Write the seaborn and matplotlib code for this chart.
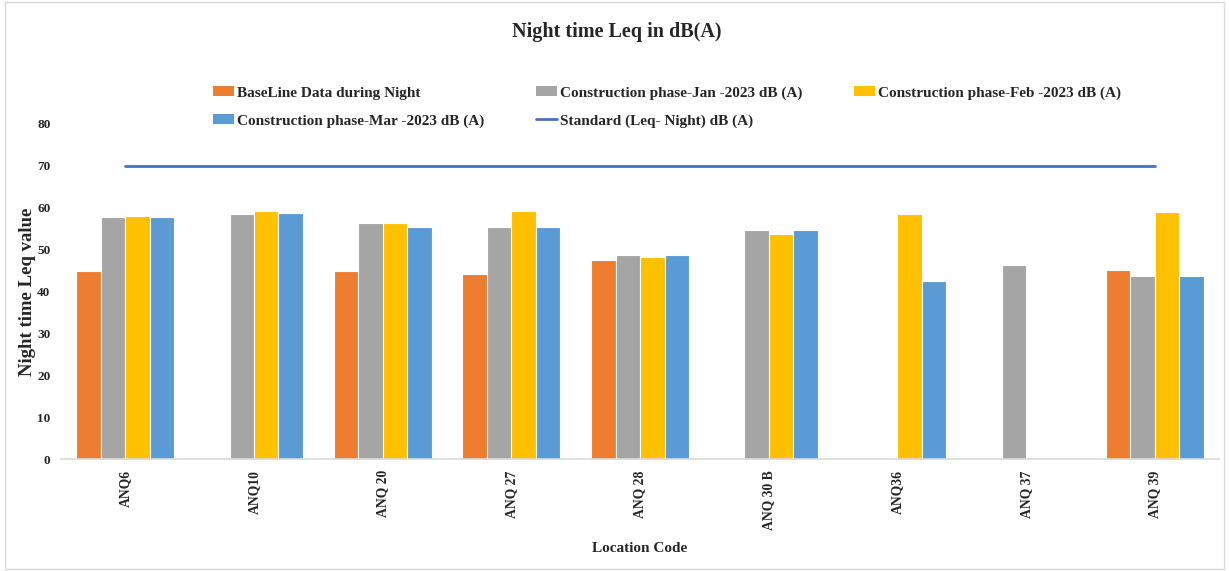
import numpy as np
import pandas as pd
import matplotlib
matplotlib.use("Agg")
import matplotlib.pyplot as plt
import seaborn as sns
from matplotlib.patches import Patch, Rectangle
from matplotlib.lines import Line2D

# Monitoring locations
locations = ["ANQ6", "ANQ10", "ANQ 20", "ANQ 27", "ANQ 28", "ANQ 30 B", "ANQ36", "ANQ 37", "ANQ 39"]

# Night time Leq, dB(A); NaN where no reading was taken
baseline = [45.0, np.nan, 44.9, 44.2, 47.5, np.nan, np.nan, np.nan, 45.2]
jan_2023 = [57.7, 58.4, 56.4, 55.4, 48.8, 54.7, np.nan, 46.4, 43.6]
feb_2023 = [58.1, 59.1, 56.3, 59.1, 48.3, 53.8, 58.6, np.nan, 59.0]
mar_2023 = [57.7, 58.8, 55.5, 55.4, 48.8, 54.7, 42.6, np.nan, 43.7]
standard = [70] * len(locations)

series_names = [
    "BaseLine Data during Night",
    "Construction phase-Jan -2023 dB (A)",
    "Construction phase-Feb -2023 dB (A)",
    "Construction phase-Mar -2023 dB (A)",
]
standard_name = "Standard (Leq- Night) dB (A)"
colors = ["#ED7D31", "#A5A5A5", "#FFC000", "#5B9BD5"]
line_color = "#4472C4"

df = pd.DataFrame({
    "Location": locations * 4,
    "Series": np.repeat(series_names, len(locations)),
    "Leq": baseline + jan_2023 + feb_2023 + mar_2023,
})

sns.set_theme(style="white")
plt.rcParams["font.family"] = ["Liberation Serif", "DejaVu Serif"]
plt.rcParams["font.weight"] = "bold"

fig = plt.figure(figsize=(12.29, 5.71), dpi=100)
ax = fig.add_axes([0.0496, 0.196, 0.9424, 0.587])

sns.barplot(
    data=df, x="Location", y="Leq", hue="Series", order=locations,
    hue_order=series_names, palette=colors, width=0.76,
    edgecolor="white", linewidth=0.8, saturation=1, ax=ax, legend=False,
)
sns.lineplot(x=np.arange(len(locations)), y=standard, color=line_color,
             linewidth=2.0, ax=ax)

ax.set_xlim(-0.5, len(locations) - 0.5)
ax.set_ylim(0, 80)
ax.set_yticks(range(0, 81, 10))
ax.tick_params(axis="both", length=0)
ax.tick_params(axis="y", labelsize=9.5, pad=7.5)
ax.tick_params(axis="x", labelsize=9.8, pad=8)
for lbl in ax.get_xticklabels():
    lbl.set_rotation(90)
    lbl.set_fontweight("bold")
for lbl in ax.get_yticklabels():
    lbl.set_fontweight("bold")

for side in ["top", "right", "left"]:
    ax.spines[side].set_visible(False)
ax.spines["bottom"].set_color("#D9D9D9")
ax.spines["bottom"].set_linewidth(1.2)

ax.set_xlabel("Location Code", fontsize=11, fontweight="bold", labelpad=9)
ax.set_ylabel("Night time Leq value", fontsize=13.5, fontweight="bold", labelpad=0.5)

fig.text(0.502, 0.944, "Night time Leq in dB(A)", ha="center", va="center",
         fontsize=14.5, fontweight="bold")

# Legend laid out row by row across three columns
patches = [Patch(facecolor=c, edgecolor="none") for c in colors]
std_handle = Line2D([0], [0], color=line_color, linewidth=2)
handles = [patches[0], patches[3], patches[1], std_handle, patches[2]]
labels = [series_names[0], series_names[3], series_names[1], standard_name, series_names[2]]
fig.legend(handles, labels, ncol=3, loc="upper left",
           bbox_to_anchor=(0.1735, 0.849), frameon=False,
           prop={"size": 11, "weight": "bold"}, handlelength=1.35,
           handleheight=0.6, handletextpad=0.2, columnspacing=3.4,
           labelspacing=0.95, borderpad=0, borderaxespad=0)

fig.patches.append(Rectangle((0.004, 0.004), 0.992, 0.992, transform=fig.transFigure,
                             fill=False, edgecolor="#D9D9D9", linewidth=1.0))

fig.savefig("out.png", dpi=100, facecolor="white")
